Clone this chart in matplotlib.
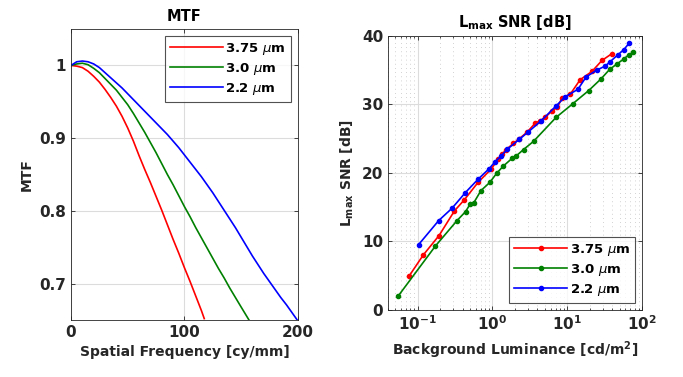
import matplotlib
matplotlib.use("Agg")
import matplotlib.pyplot as plt
from matplotlib.ticker import LogLocator, NullFormatter

# MTF curves (spatial frequency in cy/mm)
freq_375 = [0, 5, 10, 15, 20, 25, 30, 35, 40, 45, 50, 55, 60, 65, 70, 75, 80, 85, 90, 95,
            100, 105, 110, 115, 117.5]
mtf_375 = [1.0, 0.999, 0.997, 0.992, 0.985, 0.977, 0.967, 0.956, 0.944, 0.930, 0.914, 0.896,
           0.876, 0.857, 0.839, 0.820, 0.801, 0.781, 0.761, 0.742, 0.722, 0.703, 0.683, 0.663,
           0.652]

freq_30 = [0, 5, 10, 15, 20, 25, 30, 35, 40, 45, 50, 55, 60, 65, 70, 75, 80, 85, 90, 95,
           100, 105, 110, 115, 120, 125, 130, 135, 140, 145, 150, 157]
mtf_30 = [1.0, 1.002, 1.003, 1.001, 0.996, 0.990, 0.982, 0.974, 0.966, 0.956, 0.946, 0.934,
          0.921, 0.908, 0.894, 0.880, 0.865, 0.850, 0.836, 0.821, 0.806, 0.792, 0.777, 0.763,
          0.749, 0.735, 0.721, 0.708, 0.694, 0.681, 0.668, 0.650]

freq_22 = [0, 5, 10, 15, 20, 25, 30, 35, 40, 45, 50, 55, 60, 65, 70, 75, 80, 85, 90, 95,
           100, 105, 110, 115, 120, 125, 130, 135, 140, 145, 150, 155, 160, 165, 170, 175,
           180, 185, 190, 195, 200]
mtf_22 = [1.0, 1.005, 1.006, 1.005, 1.002, 0.997, 0.990, 0.983, 0.976, 0.969, 0.961, 0.953,
          0.945, 0.937, 0.929, 0.921, 0.913, 0.905, 0.896, 0.887, 0.877, 0.867, 0.857, 0.847,
          0.836, 0.825, 0.813, 0.801, 0.789, 0.777, 0.764, 0.751, 0.738, 0.726, 0.714, 0.703,
          0.692, 0.681, 0.671, 0.660, 0.649]

# Lmax SNR vs background luminance (cd/m^2)
lum_375 = [0.077, 0.119, 0.193, 0.31, 0.42, 0.64, 0.95, 1.2, 1.35, 1.52, 1.91, 2.23, 2.88,
           3.73, 4.35, 5.07, 6.2, 7.4, 8.5, 11, 14.9, 21.4, 29.1, 39.6]
snr_375 = [4.96, 8.03, 10.85, 14.45, 16.06, 18.6, 20.5, 22.0, 22.7, 23.4, 24.3, 24.9, 25.9,
           27.25, 27.6, 28.1, 29.0, 29.6, 30.9, 31.5, 33.6, 34.8, 36.4, 37.4]

lum_30 = [0.055, 0.173, 0.336, 0.437, 0.50, 0.565, 0.70, 0.92, 1.14, 1.40, 1.82, 2.04, 2.6,
          3.54, 7.1, 11.9, 19.3, 28.2, 36.9, 46.2, 56.8, 66, 75.8]
snr_30 = [2.04, 9.34, 13.04, 14.35, 15.4, 15.67, 17.4, 18.6, 19.95, 21.0, 22.1, 22.4, 23.4,
          24.6, 28.1, 30.1, 32.0, 33.7, 35.1, 35.9, 36.6, 37.2, 37.6]

lum_22 = [0.103, 0.191, 0.288, 0.435, 0.643, 0.9, 1.09, 1.29, 1.58, 2.29, 3.03, 4.49, 7.13,
          9.4, 13.9, 17.9, 24.9, 32.3, 37.7, 47.2, 56.8, 67]
snr_22 = [9.54, 13.04, 14.84, 17.13, 19.08, 20.6, 21.65, 22.4, 23.45, 24.9, 26.0, 27.6, 29.8,
          31.1, 32.2, 34.0, 35.0, 35.6, 36.25, 37.2, 37.96, 38.9]

labels = ["3.75 $\\mathit{\\mu}$m", "3.0 $\\mathit{\\mu}$m", "2.2 $\\mathit{\\mu}$m"]
colors = ["#ff0000", "#008000", "#0000ff"]

plt.rcParams["font.family"] = "DejaVu Sans"
plt.rcParams["mathtext.default"] = "regular"
text_col = "#262626"
fs = 10

fig = plt.figure(figsize=(6.83, 3.77), dpi=100)
ax1 = fig.add_axes([0.104, 0.151, 0.332, 0.772])
ax2 = fig.add_axes([0.568, 0.178, 0.372, 0.727])

# ---- MTF panel
for f, m, c, lab in zip([freq_375, freq_30, freq_22], [mtf_375, mtf_30, mtf_22], colors, labels):
    ax1.plot(f, m, color=c, linewidth=1.2, label=lab)
ax1.set_xlim(0, 200)
ax1.set_ylim(0.65, 1.05)
ax1.set_xticks([0, 100, 200])
ax1.set_yticks([0.7, 0.8, 0.9, 1.0])
ax1.set_yticklabels(["0.7", "0.8", "0.9", "1"])
ax1.grid(True, color="#dcdcdc", linewidth=0.8)
ax1.set_axisbelow(True)
ax1.set_title("MTF", fontsize=fs + 0.5, fontweight="bold", color="black")
ax1.set_xlabel("Spatial Frequency [cy/mm]", fontsize=fs, fontweight="bold", color=text_col)
ax1.set_ylabel("MTF", fontsize=fs, fontweight="bold", color=text_col)
leg1 = ax1.legend(loc="upper right", fancybox=False, edgecolor="#262626",
                  handlelength=4.0, borderaxespad=0.5, labelspacing=0.3, handletextpad=0.2,
                  prop={"weight": "bold", "size": fs - 0.5})
leg1.get_frame().set_linewidth(0.8)

# ---- SNR panel
for x, y, c, lab in zip([lum_375, lum_30, lum_22], [snr_375, snr_30, snr_22], colors, labels):
    ax2.plot(x, y, color=c, linewidth=1.2, marker=".", markersize=6, label=lab)
ax2.set_xscale("log")
ax2.set_xlim(0.04, 100)
ax2.set_ylim(0, 40)
ax2.set_yticks([0, 10, 20, 30, 40])
ax2.xaxis.set_minor_locator(LogLocator(base=10, subs=range(2, 10), numticks=20))
ax2.xaxis.set_minor_formatter(NullFormatter())
ax2.grid(True, which="major", color="#dcdcdc", linewidth=0.8)
ax2.grid(True, which="minor", axis="x", color="#c4c4c4", linewidth=0.6, linestyle=(0, (1, 4)))
ax2.set_axisbelow(True)
ax2.set_title("L$_{max}$ SNR [dB]", fontsize=fs + 0.5, fontweight="bold", color="black")
ax2.set_xlabel("Background Luminance [cd/m$^2$]", fontsize=fs, fontweight="bold", color=text_col)
ax2.set_ylabel("L$_{max}$ SNR [dB]", fontsize=fs, fontweight="bold", color=text_col)
leg2 = ax2.legend(loc="lower right", fancybox=False, edgecolor="#262626",
                  handlelength=4.0, borderaxespad=0.5, labelspacing=0.3, handletextpad=0.2,
                  prop={"weight": "bold", "size": fs - 0.5})
leg2.get_frame().set_linewidth(0.8)

for ax in (ax1, ax2):
    ax.tick_params(which="both", direction="in", top=True, right=True, colors=text_col,
                   labelsize=fs + 1, width=0.6)
    ax.tick_params(which="major", length=3)
    ax.tick_params(which="minor", length=1.5)
    for lbl in ax.get_xticklabels() + ax.get_yticklabels():
        lbl.set_fontweight("bold")
    for s in ax.spines.values():
        s.set_color(text_col)
        s.set_linewidth(0.6)

fig.savefig("out.png", dpi=100)
